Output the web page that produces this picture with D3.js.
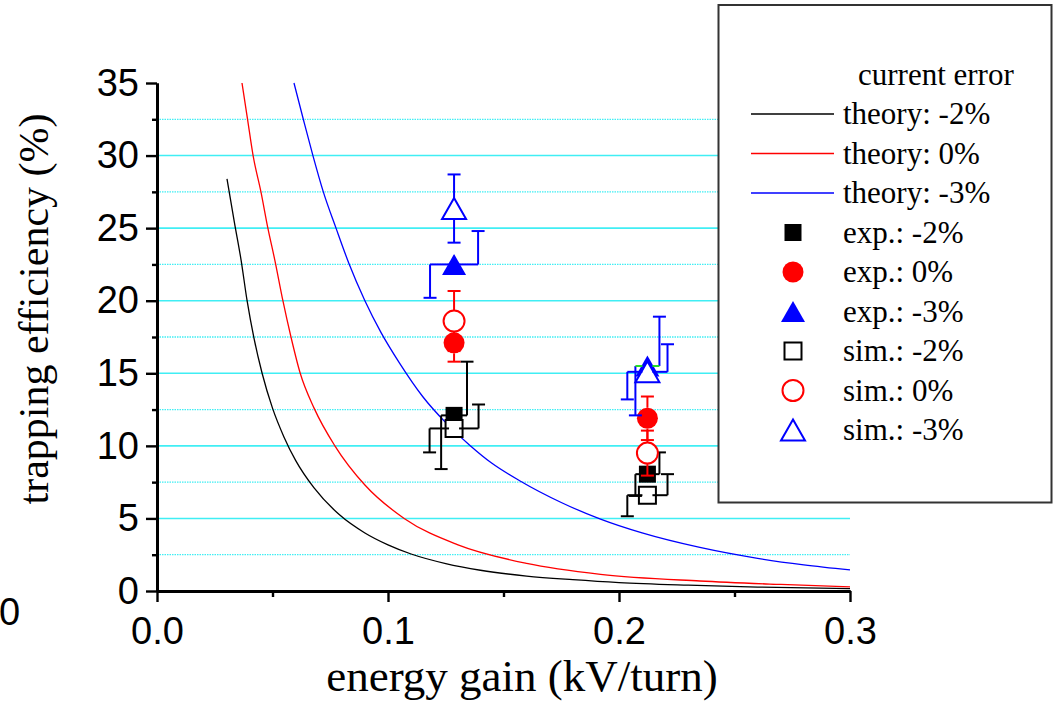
<!DOCTYPE html>
<html>
<head>
<meta charset="utf-8">
<script src="https://cdn.jsdelivr.net/npm/d3@7"></script>
<style>
  body { margin: 0; background: #fff; }
  svg { display: block; }
</style>
</head>
<body>
<svg id="chart" width="1054" height="702"></svg>
<script>
// ---- theory curves: energy gain (kV/turn) vs trapping efficiency (%) ----
const theoryM2Gain = [0.0303, 0.0335, 0.0364, 0.039, 0.042, 0.0455, 0.050, 0.055, 0.060, 0.068, 0.079, 0.090, 0.100, 0.110, 0.125, 0.140, 0.160, 0.180, 0.200, 0.230, 0.260, 0.300];
const theoryM2Eff  = [28.4, 25.4, 22.8, 20.0, 17.4, 15.0, 12.6, 10.6, 9.0, 7.1, 5.25, 4.0, 3.18, 2.55, 1.89, 1.43, 1.03, 0.78, 0.58, 0.40, 0.27, 0.17];

const theory0Gain = [0.0368, 0.0392, 0.0416, 0.045, 0.048, 0.051, 0.0545, 0.058, 0.062, 0.068, 0.077, 0.090, 0.107, 0.130, 0.160, 0.192, 0.235, 0.270, 0.300];
const theory0Eff  = [35.0, 32.5, 30.0, 27.5, 25.0, 22.8, 20.0, 17.5, 15.0, 12.6, 10.0, 7.3, 5.0, 3.2, 1.9, 1.15, 0.69, 0.45, 0.28];

const theoryM3Gain = [0.0593, 0.0635, 0.0675, 0.072, 0.0775, 0.083, 0.090, 0.097, 0.105, 0.115, 0.125, 0.135, 0.145, 0.157, 0.175, 0.192, 0.210, 0.235, 0.260, 0.280, 0.300];
const theoryM3Eff  = [35.0, 32.4, 30.0, 27.5, 25.0, 22.6, 20.0, 17.8, 15.7, 13.4, 11.6, 10.1, 8.8, 7.6, 6.1, 4.95, 4.0, 3.0, 2.25, 1.8, 1.45];

// ---- measured (exp.) and simulated (sim.) points at two energy gains ----
const pointGain = [0.1286, 0.2123];

const expM2Eff = [12.1, 8.05];
const expM2Err = [3.7, 1.5];
const expM2Shift = [0.0056, 0.0052];   // horizontal offset of the split error bar

const exp0Eff = [17.1, 11.9];
const exp0Err = [1.3, 1.5];
const exp0Shift = [0, 0];

const expM3Eff = [22.5, 15.5];
const expM3Err = [2.3, 3.4];
const expM3Shift = [0.0104, 0.0052];

const simM2Eff = [11.2, 6.6];
const simM2Err = [1.65, 1.45];
const simM2Shift = [0.0106, 0.0087];

const sim0Eff = [18.6, 9.5];
const sim0Err = [2.07, 1.55];
const sim0Shift = [0, 0];

const simM3Eff = [26.35, 15.1];
const simM3Err = [2.35, 1.9];
const simM3Shift = [0, 0.0087];

// ---- axes ----
const yMajorTicks = [0, 5, 10, 15, 20, 25, 30, 35];
const yMinorTicks = [2.5, 7.5, 12.5, 17.5, 22.5, 27.5, 32.5];
const xMajorTicks = [0.0, 0.1, 0.2, 0.3];
const xMinorTicks = [0.05, 0.15, 0.25];

const legendTitle = "current error";
const legendLabels = ["theory: -2%", "theory: 0%", "theory: -3%",
                      "exp.: -2%", "exp.: 0%", "exp.: -3%",
                      "sim.: -2%", "sim.: 0%", "sim.: -3%"];

// ---------------------------------------------------------------------
const svg = d3.select("#chart");
const plot = { left: 157, right: 850, top: 83, bottom: 591 };

const x = d3.scaleLinear().domain([0, 0.3]).range([plot.left, plot.right]);
const y = d3.scaleLinear().domain([0, 35]).range([plot.bottom, plot.top]);

const BLACK = "#000000", RED = "#ff0000", BLUE = "#0000ff", GRID = "#40eef4";
const serif = "'Liberation Serif', 'Times New Roman', serif";
const sans = "'Liberation Sans', Arial, sans-serif";

// grid lines
const grid = svg.append("g");
grid.selectAll("line.major")
  .data(yMajorTicks.filter(v => v > 0 && v < 35))
  .join("line")
  .attr("x1", plot.left).attr("x2", plot.right)
  .attr("y1", d => y(d)).attr("y2", d => y(d))
  .attr("stroke", GRID).attr("stroke-width", 1.6);
grid.selectAll("line.minor")
  .data(yMinorTicks)
  .join("line")
  .attr("x1", plot.left).attr("x2", plot.right)
  .attr("y1", d => y(d)).attr("y2", d => y(d))
  .attr("stroke", GRID).attr("stroke-width", 1.3)
  .attr("stroke-dasharray", "1.5,1");

// theory curves
const line = d3.line().x(d => x(d[0])).y(d => y(d[1])).curve(d3.curveMonotoneX);
const theories = [
  { gain: theoryM2Gain, eff: theoryM2Eff, color: BLACK },
  { gain: theory0Gain, eff: theory0Eff, color: RED },
  { gain: theoryM3Gain, eff: theoryM3Eff, color: BLUE }
];
svg.append("g").selectAll("path")
  .data(theories)
  .join("path")
  .attr("d", t => line(t.gain.map((g, i) => [g, t.eff[i]])))
  .attr("fill", "none")
  .attr("stroke", t => t.color)
  .attr("stroke-width", 1.3);

// axes
function styleAxis(g, width) {
  g.select(".domain").attr("stroke", "#000").attr("stroke-width", width);
  g.selectAll(".tick line").attr("stroke", "#000").attr("stroke-width", 2.4);
  g.selectAll(".tick text").attr("font-family", sans).attr("font-size", 38).attr("fill", "#000");
}
const yAxisMinor = svg.append("g").attr("transform", `translate(${plot.left},0)`)
  .call(d3.axisLeft(y).tickValues(yMinorTicks).tickSize(5).tickSizeOuter(0).tickFormat(""));
styleAxis(yAxisMinor, 3);
const yAxis = svg.append("g").attr("transform", `translate(${plot.left},0)`)
  .call(d3.axisLeft(y).tickValues(yMajorTicks).tickSize(11).tickSizeOuter(0).tickPadding(7).tickFormat(d3.format("d")));
styleAxis(yAxis, 3);

const xAxisMinor = svg.append("g").attr("transform", `translate(0,${plot.bottom})`)
  .call(d3.axisBottom(x).tickValues(xMinorTicks).tickSize(6).tickSizeOuter(0).tickFormat(""));
styleAxis(xAxisMinor, 3);
const xAxis = svg.append("g").attr("transform", `translate(0,${plot.bottom})`)
  .call(d3.axisBottom(x).tickValues(xMajorTicks).tickSize(11).tickSizeOuter(0).tickPadding(15).tickFormat(d3.format(".1f")));
styleAxis(xAxis, 3);

// stray zero at the far left
svg.append("text").attr("x", -1).attr("y", 625)
  .attr("font-family", sans).attr("font-size", 38).text("0");

// axis titles
svg.append("text")
  .attr("x", 522).attr("y", 691)
  .attr("text-anchor", "middle")
  .attr("font-family", serif).attr("font-size", 45)
  .text("energy gain (kV/turn)");
svg.append("text")
  .attr("transform", "translate(48,309) rotate(-90)")
  .attr("text-anchor", "middle")
  .attr("font-family", serif).attr("font-size", 42)
  .text("trapping efficiency (%)");

// ---- marker shapes ----
const SQ = 8.5, CR = 10.5, TW = 12, TH = 10.5;
function shapePath(shape) {
  if (shape === "square") return `M${-SQ},${-SQ}H${SQ}V${SQ}H${-SQ}Z`;
  if (shape === "circle") return `M${CR},0A${CR},${CR} 0 1 1 ${-CR},0A${CR},${CR} 0 1 1 ${CR},0Z`;
  return `M0,${-TH}L${TW},${TH}L${-TW},${TH}Z`;
}
function halfHeight(shape) { return shape === "square" ? SQ : shape === "circle" ? CR : TH; }

const series = [
  { eff: expM2Eff, err: expM2Err, shift: expM2Shift, shape: "square", filled: true,  color: BLACK },
  { eff: simM2Eff, err: simM2Err, shift: simM2Shift, shape: "square", filled: false, color: BLACK },
  { eff: exp0Eff,  err: exp0Err,  shift: exp0Shift,  shape: "circle", filled: true,  color: RED },
  { eff: sim0Eff,  err: sim0Err,  shift: sim0Shift,  shape: "circle", filled: false, color: RED },
  { eff: expM3Eff, err: expM3Err, shift: expM3Shift, shape: "triangle", filled: true, color: BLUE,
    armColor: i => (i === 1 ? "#22dd22" : BLUE) },
  { eff: simM3Eff, err: simM3Err, shift: simM3Shift, shape: "triangle", filled: false, color: BLUE }
];

const CAP = 6.5, GAP = 5, EW = 2;
const pts = svg.append("g");

function drawPlainErrors(g, s) {
  s.eff.forEach((v, i) => {
    if (s.shift[i] !== 0) return;
    const cx = x(pointGain[i]), cy = y(v), h = halfHeight(s.shape);
    const top = y(v + s.err[i]), bot = y(v - s.err[i]);
    const segs = [
      [cx, cy - h, cx, top], [cx - CAP, top, cx + CAP, top],
      [cx, cy + h, cx, bot], [cx - CAP, bot, cx + CAP, bot]
    ];
    segs.forEach(sg => g.append("line")
      .attr("x1", sg[0]).attr("y1", sg[1]).attr("x2", sg[2]).attr("y2", sg[3])
      .attr("stroke", s.color).attr("stroke-width", EW));
  });
}
function drawSplitErrors(g, s) {
  s.eff.forEach((v, i) => {
    if (s.shift[i] === 0) return;
    const cx = x(pointGain[i]), cy = y(v);
    const dx = x(pointGain[i] + s.shift[i]) - cx;
    const top = y(v + s.err[i]), bot = y(v - s.err[i]);
    const arm = s.armColor ? s.armColor(i) : s.color;
    const arms = [[cx - GAP, cy, cx - dx, cy], [cx + GAP, cy, cx + dx, cy]];
    const verts = [
      [cx - dx, cy, cx - dx, bot], [cx - dx - CAP, bot, cx - dx + CAP, bot],
      [cx + dx, cy, cx + dx, top], [cx + dx - CAP, top, cx + dx + CAP, top]
    ];
    verts.forEach(sg => g.append("line")
      .attr("x1", sg[0]).attr("y1", sg[1]).attr("x2", sg[2]).attr("y2", sg[3])
      .attr("stroke", s.color).attr("stroke-width", EW));
    arms.forEach(sg => g.append("line")
      .attr("x1", sg[0]).attr("y1", sg[1]).attr("x2", sg[2]).attr("y2", sg[3])
      .attr("stroke", arm).attr("stroke-width", EW));
  });
}
function drawMarkers(g, s) {
  g.selectAll(null)
    .data(s.eff.map((v, i) => [pointGain[i], v]))
    .join("path")
    .attr("transform", d => `translate(${x(d[0])},${y(d[1])})`)
    .attr("d", shapePath(s.shape))
    .attr("fill", s.filled ? s.color : "#fff")
    .attr("stroke", s.color)
    .attr("stroke-width", s.filled ? 0 : 2);
}

// draw in colour groups: black, red, blue
for (let k = 0; k < series.length; k += 2) {
  const grp = pts.append("g");
  const pair = [series[k], series[k + 1]];
  pair.forEach(s => drawPlainErrors(grp, s));
  pair.forEach(s => drawMarkers(grp, s));
  pair.forEach(s => drawSplitErrors(grp, s));
}

// ---- legend ----
const legend = svg.append("g");
legend.append("rect")
  .attr("x", 718.5).attr("y", 5).attr("width", 333).attr("height", 497.5)
  .attr("fill", "#fff").attr("stroke", "#333").attr("stroke-width", 2);
legend.append("text").attr("x", 858).attr("y", 85)
  .attr("font-family", serif).attr("font-size", 31).text(legendTitle);

const rowY = d3.scaleLinear().domain([0, 8]).range([114, 430]);
const legendStyles = [
  { kind: "line", color: BLACK }, { kind: "line", color: RED }, { kind: "line", color: BLUE },
  { kind: "mark", s: series[0] }, { kind: "mark", s: series[2] }, { kind: "mark", s: series[4] },
  { kind: "mark", s: series[1] }, { kind: "mark", s: series[3] }, { kind: "mark", s: series[5] }
];
legendLabels.forEach((label, i) => {
  const yy = rowY(i);
  const st = legendStyles[i];
  if (st.kind === "line") {
    legend.append("line").attr("x1", 751).attr("x2", 834).attr("y1", yy).attr("y2", yy)
      .attr("stroke", st.color).attr("stroke-width", 1.3);
  } else {
    legend.append("path")
      .attr("transform", `translate(793,${yy})`)
      .attr("d", shapePath(st.s.shape))
      .attr("fill", st.s.filled ? st.s.color : "#fff")
      .attr("stroke", st.s.color)
      .attr("stroke-width", st.s.filled ? 0 : 2);
  }
  legend.append("text").attr("x", 843).attr("y", yy + 10)
    .attr("font-family", serif).attr("font-size", 31).text(label);
});
</script>
</body>
</html>
